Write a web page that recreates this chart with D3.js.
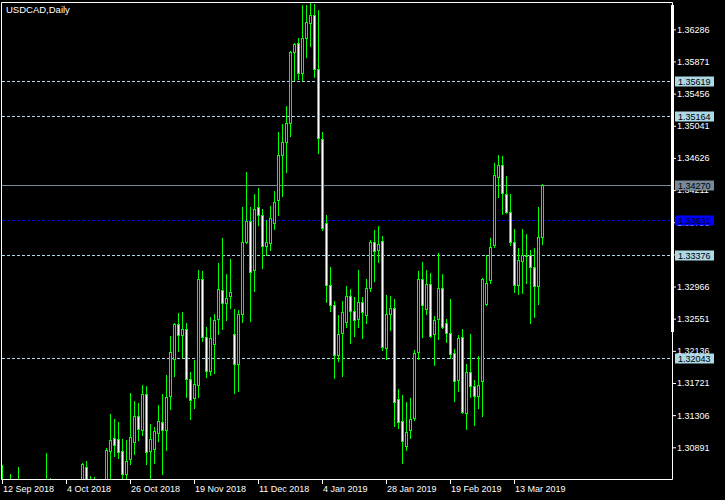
<!DOCTYPE html>
<html><head><meta charset="utf-8">
<script src="https://cdn.jsdelivr.net/npm/d3@7"></script>
<style>html,body{margin:0;padding:0;background:#000;}svg{display:block;}</style>
</head><body>
<svg id="c" width="725" height="500"></svg>
<script>
const chartTitle = "USDCAD,Daily";
const opens = [1.30404,1.30275,1.30082,1.30211,1.29888,1.30275,1.29823,1.29565,1.29500,1.29436,1.29823,1.30211,1.29952,1.29565,1.29049,1.28533,1.29307,1.29565,1.30082,1.29823,1.30340,1.30637,1.30275,1.30082,1.30211,1.30275,1.30340,1.30843,1.31011,1.30998,1.30843,1.30546,1.30740,1.30959,1.31295,1.31114,1.31578,1.30843,1.30869,1.31075,1.31217,1.31114,1.31553,1.32031,1.32482,1.32340,1.32418,1.31772,1.31527,1.31694,1.33063,1.32315,1.31875,1.32224,1.32547,1.32921,1.32753,1.32844,1.32353,1.31966,1.32611,1.33540,1.33811,1.33179,1.33993,1.33889,1.33489,1.33527,1.33786,1.34083,1.34663,1.34831,1.35076,1.35993,1.36109,1.35722,1.36174,1.36367,1.36470,1.35774,1.34870,1.33786,1.32986,1.32727,1.32082,1.32366,1.32508,1.32844,1.32650,1.32547,1.32766,1.32598,1.32947,1.33540,1.33437,1.33553,1.32173,1.32611,1.32689,1.31514,1.31230,1.30908,1.31114,1.31269,1.32121,1.33063,1.32676,1.32998,1.32353,1.32547,1.32947,1.32495,1.32366,1.32108,1.31759,1.32315,1.31333,1.31862,1.31682,1.31553,1.31746,1.32740,1.33050,1.33501,1.34379,1.34534,1.34160,1.33928,1.33540,1.32986,1.33295,1.33360,1.33373,1.33218,1.32973,1.33605];
const highs = [1.30662,1.30443,1.30546,1.30417,1.30637,1.30404,1.30082,1.29952,1.29823,1.29952,1.30340,1.30817,1.30495,1.29694,1.29178,1.29436,1.29694,1.30211,1.30340,1.30443,1.30688,1.30714,1.30521,1.30508,1.30404,1.30430,1.30882,1.31320,1.31256,1.31217,1.30998,1.30985,1.31591,1.31488,1.31462,1.31694,1.31682,1.31191,1.31153,1.31436,1.31578,1.31823,1.32328,1.32495,1.32624,1.32637,1.32495,1.31862,1.32018,1.33179,1.33166,1.32444,1.32573,1.32611,1.33269,1.33592,1.33127,1.33321,1.32676,1.32663,1.33993,1.34444,1.33993,1.34160,1.34238,1.33967,1.33824,1.34006,1.34199,1.34959,1.35063,1.35296,1.36006,1.36109,1.36174,1.36599,1.36599,1.36625,1.36612,1.36535,1.34959,1.33889,1.33218,1.32779,1.32598,1.32779,1.32973,1.32934,1.32831,1.33179,1.32831,1.33063,1.33566,1.33695,1.33747,1.33618,1.32857,1.32844,1.32805,1.31643,1.31565,1.31475,1.31527,1.32147,1.33166,1.33282,1.33179,1.33140,1.32585,1.33398,1.33127,1.32547,1.32805,1.32160,1.32340,1.32418,1.31966,1.32353,1.31759,1.32070,1.33076,1.33373,1.33592,1.34560,1.34663,1.34650,1.34392,1.34160,1.33708,1.33463,1.33708,1.33644,1.33437,1.33463,1.33993,1.34289];
const lows = [1.30146,1.30017,1.29952,1.29823,1.29759,1.29694,1.29436,1.29307,1.29178,1.29242,1.29630,1.29823,1.29436,1.28920,1.28404,1.28275,1.29049,1.29436,1.29694,1.29630,1.30211,1.30211,1.29952,1.29888,1.30017,1.30146,1.30275,1.30404,1.30779,1.30753,1.30430,1.30417,1.30675,1.30804,1.30985,1.31049,1.30675,1.30417,1.30688,1.30972,1.30546,1.30856,1.31385,1.31811,1.32134,1.32057,1.31540,1.31256,1.31398,1.31540,1.32263,1.31798,1.31823,1.31849,1.32353,1.32418,1.32534,1.32689,1.31591,1.31617,1.32508,1.33527,1.32521,1.32908,1.33760,1.33205,1.33373,1.33437,1.33708,1.33889,1.34134,1.34444,1.34908,1.35631,1.35644,1.35631,1.35929,1.36070,1.35670,1.34689,1.33695,1.32766,1.32650,1.31785,1.32005,1.31811,1.32444,1.32237,1.32328,1.32444,1.32302,1.32495,1.32908,1.33037,1.33282,1.32147,1.32031,1.32405,1.31166,1.31140,1.30688,1.30856,1.31011,1.31243,1.32031,1.32315,1.32611,1.32315,1.31953,1.32289,1.32431,1.32250,1.32044,1.31488,1.31617,1.31333,1.31127,1.31540,1.31179,1.31398,1.31295,1.32727,1.33011,1.33476,1.34121,1.33902,1.33915,1.33501,1.32895,1.32869,1.32882,1.33011,1.32495,1.32573,1.32740,1.33514];
const closes = [1.30275,1.30082,1.30211,1.29888,1.30275,1.29823,1.29565,1.29500,1.29436,1.29823,1.30211,1.29952,1.29565,1.29049,1.28533,1.29307,1.29565,1.30082,1.29823,1.30340,1.30675,1.30275,1.30082,1.30211,1.30275,1.30340,1.30856,1.30985,1.30920,1.30830,1.30546,1.30714,1.31024,1.31295,1.31127,1.31578,1.30830,1.30998,1.31101,1.31230,1.31114,1.31540,1.32121,1.32482,1.32340,1.32418,1.31772,1.31501,1.31707,1.33063,1.32315,1.31875,1.32302,1.32534,1.32934,1.32753,1.32818,1.32895,1.31966,1.32611,1.33540,1.33811,1.33153,1.33967,1.33889,1.33489,1.33540,1.33850,1.34057,1.34663,1.34831,1.35076,1.35993,1.36096,1.35722,1.36174,1.36380,1.36470,1.35774,1.34883,1.33721,1.32986,1.32727,1.32082,1.32353,1.32637,1.32844,1.32650,1.32534,1.32766,1.32637,1.32947,1.33540,1.33424,1.33514,1.32186,1.32611,1.32689,1.31475,1.31217,1.30972,1.31088,1.31256,1.32108,1.33063,1.32727,1.32998,1.32328,1.32534,1.32947,1.32444,1.32366,1.32095,1.31746,1.32302,1.31346,1.31862,1.31682,1.31553,1.31694,1.33063,1.33011,1.33476,1.34405,1.34534,1.34173,1.33928,1.33540,1.32986,1.33308,1.33373,1.33373,1.33218,1.32973,1.33605,1.34270];
const yTickValues = [1.36286,1.35871,1.35456,1.35041,1.34626,1.34211,1.33796,1.33381,1.32966,1.32551,1.32136,1.31721,1.31306,1.30891];
const xTickIndex = [0,16,32,48,64,80,96,112,128];
const xTickLabels = ["12 Sep 2018","4 Oct 2018","26 Oct 2018","19 Nov 2018","11 Dec 2018","4 Jan 2019","28 Jan 2019","19 Feb 2019","13 Mar 2019"];
const dashedLevels = [1.35619,1.35164,1.33376,1.32043];
const blueLevel = 1.33831;
const bidLevel = 1.34270;

const W = 725, H = 500;
const FONT = "'Liberation Sans', Arial, sans-serif";
const plotL = 1.5, plotT = 2.5, plotR = 672.5, plotB = 479.5;
const svg = d3.select("#c");
svg.append("rect").attr("width", W).attr("height", H).attr("fill", "#000");

const n = opens.length;
const y = d3.scaleLinear().domain([yTickValues[yTickValues.length-1], yTickValues[0]]).range([447.3, 29.3]);
const x = d3.scaleLinear().domain([0, n - 1]).range([2.5, 2.5 + 4 * (n - 1)]);
const sy = v => Math.round(y(v)) + 0.5;

svg.append("clipPath").attr("id", "clip").append("rect")
  .attr("x", 2).attr("y", 3).attr("width", 670).attr("height", 476);
const plot = svg.append("g").attr("clip-path", "url(#clip)");

// horizontal level lines
plot.selectAll("line.lvl").data(dashedLevels).join("line")
  .attr("x1", 2).attr("x2", 672).attr("y1", d => sy(d)).attr("y2", d => sy(d))
  .attr("stroke", "#add8e6").attr("stroke-width", 1).attr("stroke-dasharray", "3,2");
plot.append("line").attr("x1", 2).attr("x2", 672).attr("y1", sy(blueLevel)).attr("y2", sy(blueLevel))
  .attr("stroke", "#0000ff").attr("stroke-dasharray", "3,2");
plot.append("line").attr("x1", 2).attr("x2", 672).attr("y1", sy(bidLevel)).attr("y2", sy(bidLevel))
  .attr("stroke", "#778899");

// candles
const idx = d3.range(n);
const cg = plot.selectAll("g.candle").data(idx).join("g");
cg.append("line")
  .attr("x1", i => x(i)).attr("x2", i => x(i))
  .attr("y1", i => Math.round(y(highs[i]))).attr("y2", i => Math.round(y(lows[i])) + 1)
  .attr("stroke", "#00ff00").attr("stroke-width", 1);
cg.each(function(i) {
  const g = d3.select(this);
  const t = Math.round(y(Math.max(opens[i], closes[i])));
  const b = Math.round(y(Math.min(opens[i], closes[i])));
  const bear = closes[i] < opens[i];
  if (b - t < 1) {
    g.append("line").attr("x1", x(i) - 1.5).attr("x2", x(i) + 1.5)
      .attr("y1", t + 0.5).attr("y2", t + 0.5).attr("stroke", "#00ff00");
  } else {
    g.append("rect").attr("x", x(i) - 1).attr("width", 2)
      .attr("y", t + 0.5).attr("height", b - t)
      .attr("fill", bear ? "#ffffff" : "#000000")
      .attr("stroke", "#00ff00").attr("stroke-width", 1);
  }
});

// frame
const frame = svg.append("g").attr("stroke", "#fff").attr("stroke-width", 1).attr("fill", "none");
frame.append("path").attr("d", `M${plotL},${plotB}V${plotT}H${plotR}V${plotB}H${plotL}`);
svg.append("rect").attr("x", 671).attr("y", 5).attr("width", 3).attr("height", 327).attr("fill", "#fff");

// y axis
const yAxis = d3.axisRight(y).tickValues(yTickValues).tickSize(3).tickPadding(1).tickFormat(d3.format(".5f"));
const ya = svg.append("g").attr("transform", "translate(673,0)").call(yAxis);
ya.select(".domain").remove();
ya.selectAll(".tick line").attr("stroke", "#fff");
ya.selectAll(".tick text").attr("fill", "#fff").attr("font-family", FONT).attr("font-size", "9px");

// price labels
const boxes = [
  ...dashedLevels.map(v => ({v, bg: "#add8e6"})),
  {v: bidLevel, bg: "#778899"},
  {v: blueLevel, bg: "#0000ff"}
];
const bg = svg.selectAll("g.pl").data(boxes).join("g");
bg.append("rect").attr("x", 675).attr("width", 39)
  .attr("y", d => Math.round(y(d.v)) - 4.5).attr("height", 10).attr("fill", d => d.bg);
bg.append("text").attr("x", 678).attr("y", d => Math.round(y(d.v)) + 0.5).attr("dy", "0.34em")
  .attr("font-family", FONT).attr("font-size", "9px").attr("fill", "#000")
  .text(d => d3.format(".5f")(d.v));

// x axis
const xa = svg.append("g");
xa.selectAll("line").data(xTickIndex).join("line")
  .attr("x1", i => x(i)).attr("x2", i => x(i)).attr("y1", 480).attr("y2", 484)
  .attr("stroke", "#fff");
xa.selectAll("text").data(xTickIndex).join("text")
  .attr("x", i => x(i) + 0.5).attr("y", 491.5)
  .attr("font-family", FONT).attr("font-size", "9px").attr("fill", "#fff")
  .text((d, j) => xTickLabels[j]);

// title
svg.append("text").attr("x", 6).attr("y", 13).attr("font-family", FONT).attr("font-size", "9.5px")
  .attr("fill", "#fff").text(chartTitle);
</script>
</body></html>
